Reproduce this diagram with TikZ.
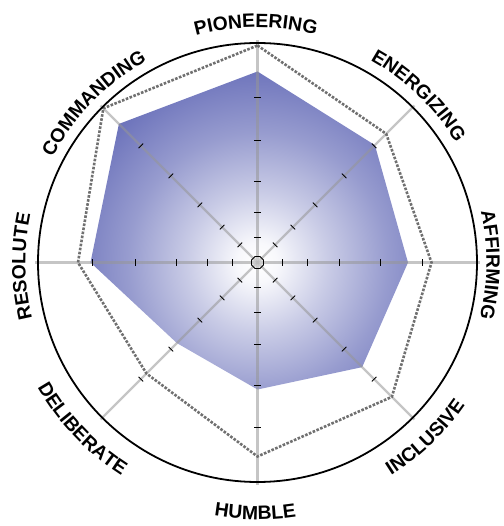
\documentclass[tikz,border=0pt]{standalone}
\usepackage{fontspec}
\newfontfamily\lblfamily{Liberation Sans}
\newcommand\lbl{\lblfamily\bfseries\fontsize{19.3pt}{21pt}\selectfont}
\usetikzlibrary{decorations.text}
\definecolor{radarblue}{RGB}{76,84,172}
\definecolor{axisgray}{RGB}{150,150,150}
\definecolor{dashgray}{RGB}{112,112,112}
\pgfdeclareradialshading{radarshade}{\pgfpointorigin}{%
  color(0bp)=(white);
  color(2bp)=(white!96!radarblue);
  color(7bp)=(white!70!radarblue);
  color(13bp)=(white!42!radarblue);
  color(19bp)=(white!20!radarblue);
  color(25bp)=(white!6!radarblue);
  color(31bp)=(radarblue);
  color(50bp)=(radarblue)}
\tikzset{
  axisline/.style={draw=axisgray, draw opacity=0.55, line width=2.3pt},
  tickmark/.style={draw=black, line width=0.9pt},
  scoreline/.style={draw=dashgray, line width=2.6pt, dash pattern=on 2.6pt off 1.5pt},
  rim/.style={draw=black, line width=1.8pt},
  hub/.style={draw=black, line width=0.9pt, fill=gray!35, fill opacity=0.6},
  curvedlabel/.style={decorate, decoration={text along path, text align=center, text={|\lbl|#1}}},
}
\begin{document}
\begin{tikzpicture}[x=1pt,y=1pt]
\useasboundingbox (-257.5,-263.5) rectangle (245.5,262.5);
% filled profile with radial gradient
\begin{scope}
  \clip (90:191) -- (45:166) -- (0:150.5) -- (-45:148) -- (-90:127) -- (-135:114) -- (180:167) -- (135:196) -- cycle;
  \shade[shading=radarshade] (-250,-250) rectangle (250,250);
\end{scope}
% axes
\foreach \a in {0,45,...,315}
  \draw[axisline] (0,0) -- (\a:222);
% dashed outer profile
\draw[scoreline] (90:217) -- (45:182) -- (0:174) -- (-45:190) -- (-90:194) -- (-135:157) -- (180:179.5) -- (135:218) -- cycle;
% ticks
\foreach \a in {0,45,...,315}
  \foreach \r in {25,50,81.5,122.5,165}
    \draw[tickmark, rotate=\a] (\r,-3.2) -- (\r,3.2);
% rim
\draw[rim] (0,0) circle (219.5);
% hub
\draw[hub] (22.5:6.5) \foreach \k in {1,...,7} { -- (22.5+45*\k:6.5) } -- cycle;
% labels, tops outward (clockwise arcs)
\path[curvedlabel=PIONEERING] (130.4:235.0) arc[start angle=130.4, end angle=50.4, radius=235.0];
\path[curvedlabel=ENERGIZING] (86:231.5) arc[start angle=86, end angle=6, radius=231.5];
\path[curvedlabel=AFFIRMING] (39.4:229.0) arc[start angle=39.4, end angle=-40.6, radius=229.0];
\path[curvedlabel=COMMANDING] (175.8:229.9) arc[start angle=175.8, end angle=95.8, radius=229.9];
\path[curvedlabel=RESOLUTE] (221:232.1) arc[start angle=221, end angle=141, radius=232.1];
% labels, tops inward (counter-clockwise arcs)
\path[curvedlabel=INCLUSIVE] (-86.2:251.7) arc[start angle=-86.2, end angle=-6.2, radius=251.7];
\path[curvedlabel=HUMBLE] (-130.5:257.0) arc[start angle=-130.5, end angle=-50.5, radius=257.0];
\path[curvedlabel=DELIBERATE] (-176.5:252.9) arc[start angle=-176.5, end angle=-96.5, radius=252.9];
\end{tikzpicture}
\end{document}
